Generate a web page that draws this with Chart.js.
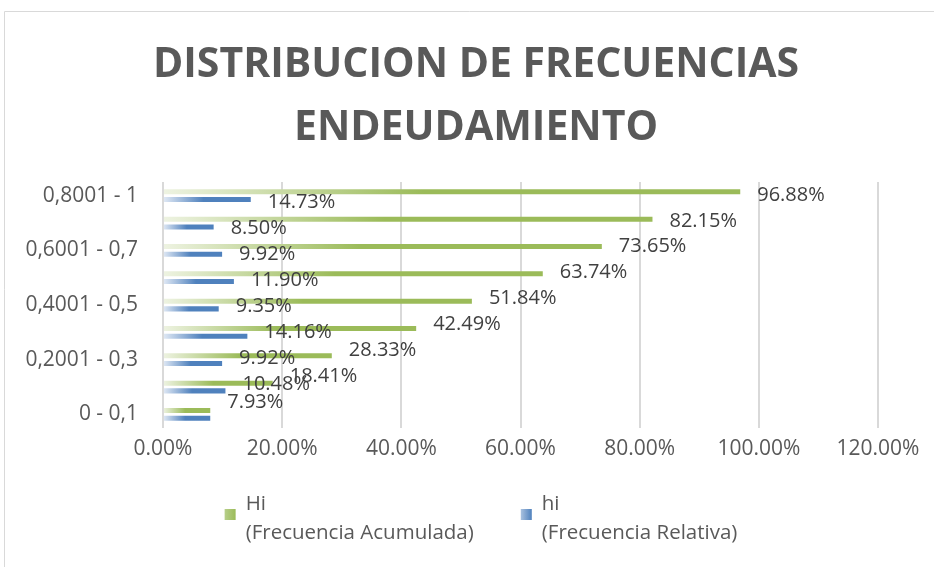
<!DOCTYPE html>
<html>
<head>
<meta charset="utf-8">
<title>Distribucion de frecuencias - endeudamiento</title>
<script src="https://cdn.jsdelivr.net/npm/chart.js@4.4.1/dist/chart.umd.min.js"></script>
<style>
  html, body { margin: 0; padding: 0; background: #fff; }
  #wrap { width: 934px; height: 567px; position: relative; }
</style>
</head>
<body>
<div id="wrap"><canvas id="freqChart"></canvas></div>
<script>
// intervalos de endeudamiento (de abajo hacia arriba)
const categories = ["0 - 0,1", "0,1001 - 0,2", "0,2001 - 0,3", "0,3001 - 0,4", "0,4001 - 0,5",
  "0,5001 - 0,6", "0,6001 - 0,7", "0,7001 - 0,8", "0,8001 - 1"];
// Hi: frecuencia acumulada (%)
const acumulada = [7.93, 18.41, 28.33, 42.49, 51.84, 63.74, 73.65, 82.15, 96.88];
// hi: frecuencia relativa (%)
const relativa = [7.93, 10.48, 9.92, 14.16, 9.35, 11.90, 9.92, 8.50, 14.73];
const xTicks = [0, 20, 40, 60, 80, 100, 120];
const seriesNames = ["Hi", "hi"];
const seriesNotes = ["(Frecuencia Acumulada)", "(Frecuencia Relativa)"];
const titleLines = ["DISTRIBUCION DE FRECUENCIAS", "ENDEUDAMIENTO"];

const FONT = "'Open Sans'";
const greens = ["#eef3e2", "#9bbb59"];
const blues = ["#e2eaf5", "#4f81bd"];

// degradado de cada barra: claro al inicio, color pleno desde ~45% del largo
function barFill(cols) {
  return function (c) {
    const chart = c.chart;
    const xs = chart.scales.x;
    if (c.type !== "data" || !xs || !chart.chartArea) return cols[1];
    const x0 = xs.getPixelForValue(0);
    const x1 = xs.getPixelForValue(c.raw);
    const g = chart.ctx.createLinearGradient(x0, 0, x0 + (x1 - x0) * 0.45 + 1, 0);
    g.addColorStop(0, cols[0]);
    g.addColorStop(1, cols[1]);
    return g;
  };
}

// marco gris del grafico
const frame = {
  id: "frame",
  beforeDraw(chart) {
    const ctx = chart.ctx;
    ctx.save();
    ctx.strokeStyle = "#d9d9d9";
    ctx.lineWidth = 1;
    ctx.beginPath();
    ctx.moveTo(4.5, chart.height);
    ctx.lineTo(4.5, 11.5);
    ctx.lineTo(chart.width, 11.5);
    ctx.stroke();
    ctx.restore();
  }
};

// etiquetas de valor al final de cada barra
const valueLabels = {
  id: "valueLabels",
  afterDatasetsDraw(chart) {
    const ctx = chart.ctx;
    const first = chart.data.datasets[0].data;
    ctx.save();
    ctx.font = "20px " + FONT;
    ctx.fillStyle = "#404040";
    ctx.textAlign = "left";
    ctx.textBaseline = "middle";
    chart.data.datasets.forEach((ds, di) => {
      chart.getDatasetMeta(di).data.forEach((bar, i) => {
        if (di > 0 && ds.data[i] === first[i]) return; // misma etiqueta, se dibuja una vez
        const dy = 3 - 0.05 * (bar.y - chart.chartArea.top - 10);
        ctx.fillText(ds.data[i].toFixed(2) + "%", bar.x + 17, bar.y + dy);
      });
    });
    ctx.restore();
  }
};

// leyenda inferior de dos lineas
const twoLineLegend = {
  id: "twoLineLegend",
  afterDraw(chart) {
    const ctx = chart.ctx;
    const box = 11, gapIcon = 10, gapItem = 47;
    ctx.save();
    ctx.font = "20.5px " + FONT;
    const widths = seriesNames.map((n, i) =>
      box + gapIcon + Math.max(ctx.measureText(n).width, ctx.measureText(seriesNotes[i]).width));
    const total = widths.reduce((a, b) => a + b, 0) + gapItem * (widths.length - 1);
    const tb = chart.titleBlock;
    let x = (tb.left + tb.right) / 2 + 5 - total / 2;
    const y1 = chart.chartArea.bottom + 76;
    const cols = [greens, blues];
    seriesNames.forEach((n, i) => {
      const iconY = y1 + 5;
      const g = ctx.createLinearGradient(x, 0, x + box, 0);
      g.addColorStop(0, i === 0 ? "#b7cf8a" : "#a9c1df");
      g.addColorStop(1, cols[i][1]);
      ctx.fillStyle = g;
      ctx.fillRect(x, iconY, box, box);
      ctx.fillStyle = "#595959";
      ctx.textAlign = "left";
      ctx.textBaseline = "middle";
      ctx.fillText(n, x + box + gapIcon, y1);
      ctx.fillText(seriesNotes[i], x + box + gapIcon, y1 + 29);
      x += widths[i] + gapItem;
    });
    ctx.restore();
  }
};

new Chart(document.getElementById("freqChart"), {
  type: "bar",
  data: {
    labels: categories,
    datasets: [
      { label: seriesNames[0], data: acumulada, backgroundColor: barFill(greens), xAxisID: "x", yAxisID: "y" },
      { label: seriesNames[1], data: relativa, backgroundColor: barFill(blues), xAxisID: "x", yAxisID: "y" }
    ]
  },
  options: {
    indexAxis: "y",
    responsive: true,
    maintainAspectRatio: false,
    animation: false,
    datasets: {
      bar: { categoryPercentage: 0.565, barPercentage: 0.65 }
    },
    layout: { padding: { left: 18, right: 0, top: 0, bottom: 0 } },
    plugins: {
      legend: { display: false },
      tooltip: { enabled: false },
      title: {
        display: true,
        text: titleLines,
        color: "#595959",
        font: { family: FONT, size: 41, weight: "bold", lineHeight: 1.537 },
        padding: { top: 34, bottom: 22 }
      }
    },
    scales: {
      x: {
        type: "linear",
        position: "bottom",
        min: 0,
        max: 120,
        grid: { color: "#d9d9d9", lineWidth: 2, drawTicks: false },
        border: { display: false },
        ticks: {
          color: "#595959",
          font: { family: FONT, size: 21 },
          padding: 8,
          callback: v => v.toFixed(2) + "%"
        },
        afterBuildTicks: s => { s.ticks = xTicks.map(v => ({ value: v })); },
        afterFit: s => { s.height = 139; }
      },
      y: {
        type: "category",
        reverse: true,
        grid: { display: false },
        border: { display: false },
        ticks: {
          autoSkip: false,
          color: "#595959",
          font: { family: FONT, size: 21 },
          padding: 17,
          callback: function (v, i) { return i % 2 === 0 ? this.getLabelForValue(v) : ""; }
        },
        afterFit: s => { s.width = 145; }
      },
      // eje vacio a la derecha, solo reserva el margen del area de trazado
      y2: {
        type: "linear",
        position: "right",
        grid: { display: false },
        border: { display: false },
        ticks: { display: false },
        afterFit: s => { s.width = 56; }
      }
    }
  },
  plugins: [frame, valueLabels, twoLineLegend]
});
</script>
</body>
</html>
